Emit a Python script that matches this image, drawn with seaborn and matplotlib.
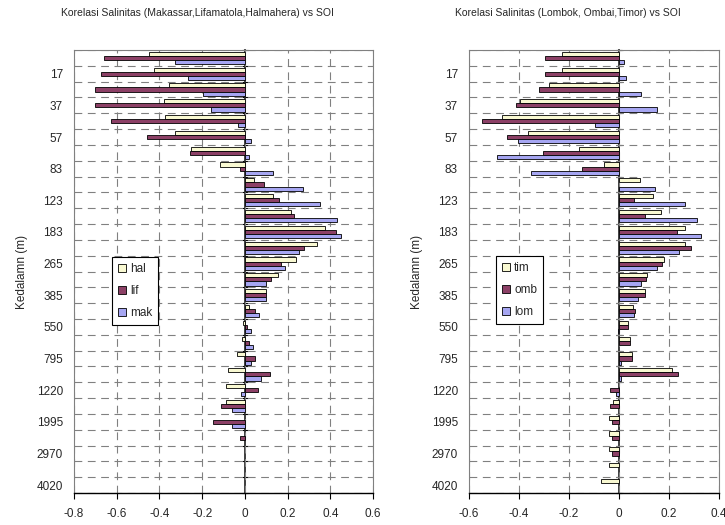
import numpy as np
import pandas as pd
import matplotlib
matplotlib.use("Agg")
import matplotlib.pyplot as plt
import seaborn as sns

# kedalaman (m); only every second label is shown on the axis
depth = ["7", "17", "27", "37", "47", "57", "70", "83", "100", "123",
         "150", "183", "220", "265", "320", "385", "460", "550", "660", "795",
         "1000", "1220", "1600", "1995", "2500", "2970", "3500", "4020"]

nan = np.nan
# panel kiri: Makassar, Lifamatola, Halmahera
hal = [-0.45, -0.425, -0.356, -0.38, -0.373, -0.325, -0.25, -0.116, 0.042, 0.13,
       0.214, 0.377, 0.34, 0.24, 0.156, 0.10, 0.02, -0.01, -0.012, -0.039,
       -0.081, -0.0875, -0.09, nan, nan, nan, nan, nan]
lif = [-0.66, -0.672, -0.703, -0.703, -0.628, -0.456, -0.256, -0.023, 0.09, 0.16,
       0.231, 0.425, 0.278, 0.17, 0.123, 0.10, 0.048, 0.012, 0.02, 0.048,
       0.119, 0.0625, -0.11, -0.147, -0.022, nan, nan, nan]
mak = [-0.325, -0.266, -0.195, -0.158, -0.034, 0.027, 0.02, 0.13, 0.27, 0.35,
       0.431, 0.452, 0.253, 0.19, 0.10, 0.097, 0.064, 0.03, 0.036, 0.028,
       0.075, -0.017, -0.059, -0.059, nan, nan, nan, nan]

# panel kanan: Lombok, Ombai, Timor
tim = [-0.227, -0.227, -0.282, -0.397, -0.47, -0.366, -0.162, -0.061, 0.082, 0.134,
       0.166, 0.262, 0.262, 0.179, 0.11, 0.102, 0.055, 0.036, 0.045, 0.051,
       0.211, nan, -0.023, -0.041, -0.041, -0.041, -0.041, -0.074]
omb = [-0.295, -0.295, -0.32, -0.414, -0.548, -0.45, -0.303, -0.147, nan, 0.059,
       0.102, 0.23, 0.286, 0.17, 0.106, 0.102, 0.064, 0.036, 0.045, 0.051,
       0.234, -0.037, -0.037, -0.028, -0.028, -0.028, nan, nan]
lom = [0.021, 0.027, 0.086, 0.151, -0.095, -0.406, -0.488, -0.352, 0.142, 0.262,
       0.313, 0.326, 0.238, 0.151, 0.086, 0.074, 0.059, -0.003, nan, 0.008,
       0.008, -0.013, nan, nan, nan, nan, nan, nan]

colors = ["#FFFFCC", "#993366", "#9999FF"]
grid_col = "#808080"

sns.set_theme(style="white")
plt.rcParams['font.family'] = ['Liberation Sans', 'DejaVu Sans']


def long_df(series):
    frames = []
    for name, vals in series.items():
        frames.append(pd.DataFrame({"depth": depth, "series": name, "val": vals}))
    return pd.concat(frames).dropna()


def draw_panel(ax, series, xlim, xticks, leg_xy):
    names = list(series.keys())
    df = long_df(series)
    sns.barplot(data=df, x="val", y="depth", hue="series", orient="h",
                order=depth, hue_order=names, palette=colors, width=0.78,
                edgecolor="black", linewidth=0.6, ax=ax, legend=True)
    ax.set_xlim(*xlim)
    ax.set_ylim(len(depth) - 0.5, -0.5)
    ax.set_xticks(xticks)
    ax.set_xticklabels(["0" if abs(v) < 1e-9 else f"{v:.1f}" for v in xticks],
                       fontsize=8.5)
    ax.set_yticks(range(len(depth)))
    ax.set_yticklabels([d if i % 2 == 1 else "" for i, d in enumerate(depth)],
                       fontsize=8.5)
    ax.set_yticks(np.arange(-0.5, len(depth)), minor=True)
    ax.tick_params(axis="y", which="both", length=0, pad=8)
    ax.tick_params(axis="x", which="major", direction="out", length=4,
                   width=0.8, color="black", pad=7, bottom=True)
    ax.grid(False)
    ax.grid(which="minor", axis="y", color=grid_col, lw=0.8, linestyle=(0, (7, 5)))
    ax.grid(which="major", axis="x", color=grid_col, lw=0.8, linestyle=(0, (7, 5)))
    ax.set_axisbelow(True)
    for s in ["left", "top", "right"]:
        ax.spines[s].set_color(grid_col)
        ax.spines[s].set_linewidth(0.8)
    ax.spines["bottom"].set_color("black")
    ax.spines["bottom"].set_linewidth(1.0)
    ax.set_xlabel("")
    ax.set_ylabel("Kedalamn (m)", fontsize=8.5, labelpad=0)

    # category axis crossing at zero
    zero = (0 - xlim[0]) / (xlim[1] - xlim[0])
    sec = ax.secondary_yaxis(zero)
    sec.set_yticks(np.arange(-0.5, len(depth)))
    sec.set_yticklabels([])
    sec.tick_params(direction="inout", length=4, width=0.8, color="black")
    sec.spines["left"].set_color("black")
    sec.spines["left"].set_linewidth(1.0)

    handles, labels = ax.get_legend_handles_labels()
    ax.legend(handles, labels, loc="upper left",
              bbox_to_anchor=(leg_xy[0] / 725, 1 - leg_xy[1] / 525),
              bbox_transform=ax.figure.transFigure, fontsize=8.5,
              frameon=True, fancybox=False, edgecolor="black", framealpha=1,
              handlelength=0.65, handleheight=0.65, handletextpad=0.4,
              labelspacing=0.85, borderpad=0.5, borderaxespad=0)
    ax.get_legend().get_frame().set_linewidth(0.8)


fig = plt.figure(figsize=(7.25, 5.25), dpi=100)
ax1 = fig.add_axes([74 / 725, 1 - 493 / 525, (373 - 74) / 725, (493 - 50) / 525])
ax2 = fig.add_axes([469 / 725, 1 - 493 / 525, (719 - 469) / 725, (493 - 50) / 525])

draw_panel(ax1, {"hal": hal, "lif": lif, "mak": mak}, (-0.8, 0.6),
           np.round(np.arange(-0.8, 0.61, 0.2), 1), (112, 257))
draw_panel(ax2, {"tim": tim, "omb": omb, "lom": lom}, (-0.6, 0.4),
           np.round(np.arange(-0.6, 0.41, 0.2), 1), (496, 256))
ax1.yaxis.set_label_coords((28 - 74) / 299, 0.5)
ax2.yaxis.set_label_coords((423 - 469) / 250, 0.5)

fig.text(197 / 725, 1 - 13 / 525,
         "Korelasi Salinitas (Makassar,Lifamatola,Halmahera) vs SOI",
         ha="center", va="center", fontsize=7.5)
fig.text(568 / 725, 1 - 13 / 525,
         "Korelasi Salinitas (Lombok, Ombai,Timor) vs SOI",
         ha="center", va="center", fontsize=7.5)

fig.savefig("out.png", dpi=100)
